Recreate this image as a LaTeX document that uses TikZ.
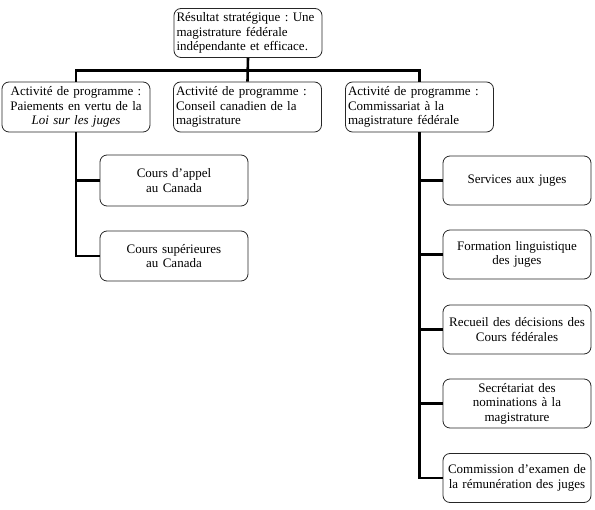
\documentclass[tikz,border=0pt]{standalone}
\usepackage{fontspec}
\setmainfont{Liberation Serif}
\frenchspacing
\begin{document}
\begin{tikzpicture}[x=1pt,y=1pt,
  box/.style={draw=black!85, line width=0.8pt, rounded corners=7pt, minimum width=148pt, minimum height=49pt, inner sep=2pt, font=\fontsize{13}{14.5}\selectfont},
  lbox/.style={box, text width=143pt, align=left},
  cbox/.style={box, text width=143pt, align=center},
  conn/.style={line width=2.6pt}]
\useasboundingbox (0,0) rectangle (595,-510);
\node[lbox] (t) at (248,-33) {Résultat stratégique : Une\\magistrature fédérale\\indépendante et efficace.};
\node[cbox, minimum height=50pt] (a) at (76,-107) {Activité de programme :\\Paiements en vertu de la\\\textit{Loi sur les juges}};
\node[lbox, minimum height=50pt] (b) at (247.5,-107) {Activité de programme :\\Conseil canadien de la\\magistrature};
\node[lbox, minimum height=50pt] (c) at (419.5,-107) {Activité de programme :\\Commissariat à la\\magistrature fédérale};
\node[cbox, minimum height=51pt] (d) at (174,-180.5) {Cours d’appel\\au Canada};
\node[cbox, minimum height=50pt] (e) at (174,-256) {Cours supérieures\\au Canada};
\node[cbox] (f) at (517,-180.5) {Services aux juges};
\node[cbox] (g) at (517,-254.5) {Formation linguistique\\des juges};
\node[cbox] (h) at (517,-329.5) {Recueil des décisions des\\Cours fédérales};
\node[cbox] (i) at (517,-403.5) {Secrétariat des\\nominations à la\\magistrature};
\node[cbox] (j) at (517,-478) {Commission d’examen de\\la rémunération des juges};
\draw[conn] (t.south) -- (b.north);
\draw[conn] (a.north) -- ++(0,11) -| (c.north);
\draw[conn] (a.south) |- (d.west);
\draw[conn] (a.south) |- (e.west);
\draw[conn] (c.south) |- (f.west);
\draw[conn] (c.south) |- (g.west);
\draw[conn] (c.south) |- (h.west);
\draw[conn] (c.south) |- (i.west);
\draw[conn] (c.south) |- (j.west);
\end{tikzpicture}
\end{document}
